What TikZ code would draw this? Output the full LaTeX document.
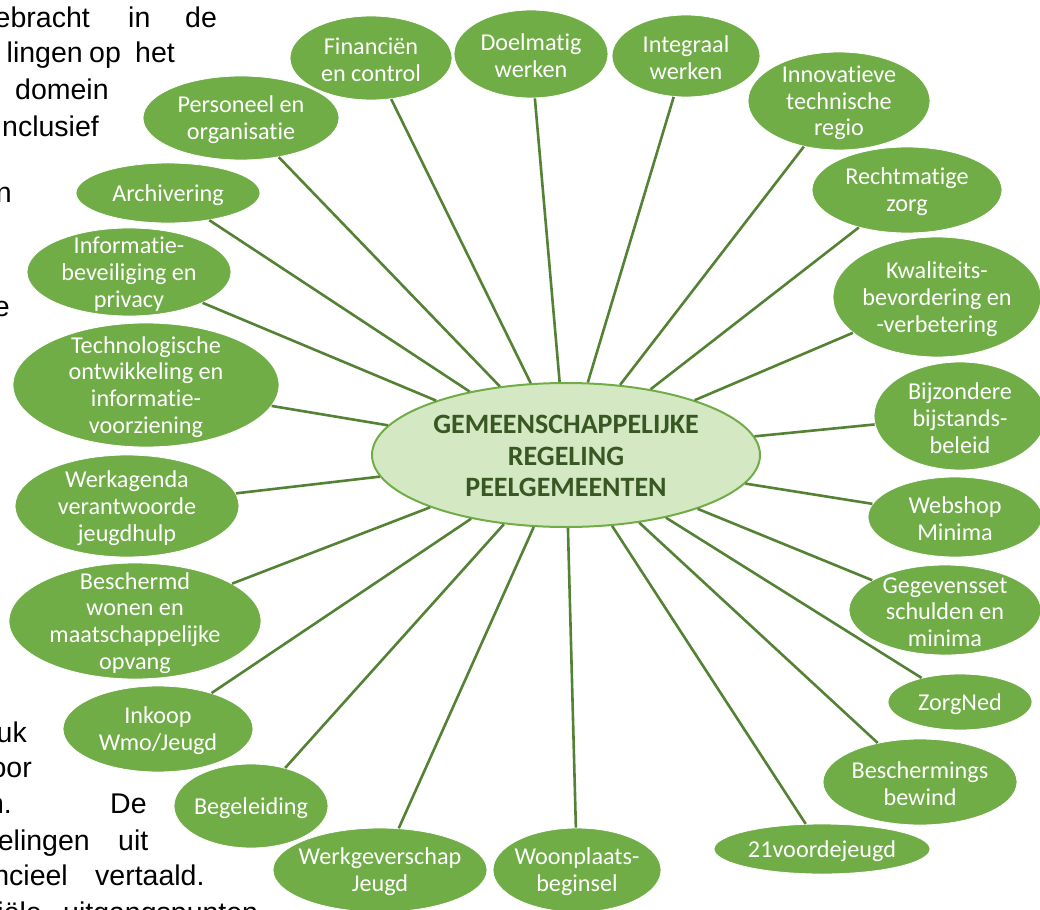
\documentclass[tikz,border=0pt]{standalone}
\usepackage{fontspec}
\setmainfont{Carlito}[Ligatures=NoCommon]
\newfontfamily\bodyfont{Liberation Sans}
\usetikzlibrary{shapes.geometric}
\definecolor{leaf}{HTML}{70AD47}
\definecolor{stem}{HTML}{548235}
\definecolor{hubfill}{HTML}{D5E8C4}
\definecolor{hubtext}{HTML}{385723}
\tikzset{
  topic/.style={ellipse, fill=leaf, draw=white, line width=0.8pt, inner sep=0pt},
  topictext/.style={text=white, inner sep=0pt, align=center, yshift=-2pt, font=\fontsize{24.2}{26.7}\selectfont},
  hubnode/.style={ellipse, fill=hubfill, draw=leaf, line width=2pt, inner sep=0pt},
  hubtextstyle/.style={text=hubtext, inner sep=0pt, align=center, yshift=-1pt, font=\bfseries\fontsize{28}{31.7}\selectfont},
  link/.style={stem, line width=2.6pt},
  prose/.style={font=\bodyfont\fontsize{28.5}{34}\selectfont, inner sep=0pt, text=black},
}
\newcommand\bubble[6]{\node[topic, minimum width=#4, minimum height=#5, label={[topictext]center:{#6}}] (#1) at (#2,#3) {};}
\begin{document}
\begin{tikzpicture}[x=1pt,y=-1pt]
\useasboundingbox (0,0) rectangle (1040,909);
\begin{scope}
\clip (0,0) rectangle (1040,909);
% background document text fragments
\node[prose, anchor=base east] (t1a) at (90,28) {ebracht};
\node[prose, anchor=base west] (t1b) at (128,28) {in};
\node[prose, anchor=base west] (t1c) at (185,28) {de};
\node[prose, anchor=base east] (t2a) at (83,63) {lingen};
\node[prose, anchor=base west] (t2b) at (89,63) {op};
\node[prose, anchor=base west] (t2c) at (135,63) {het};
\node[prose, anchor=base west] (t3a) at (15,100) {domein};
\node[prose, anchor=base east] (t4a) at (99,137) {nclusief};
\node[prose, anchor=base east] (t5a) at (12,203) {n};
\node[prose, anchor=base east] (t6a) at (10,316) {e};
\node[prose, anchor=base east] (b1a) at (27,742) {uk};
\node[prose, anchor=base east] (b2a) at (32,777) {oor};
\node[prose, anchor=base east] (b3a) at (12,813) {n.};
\node[prose, anchor=base west] (b3b) at (110,813) {De};
\node[prose, anchor=base east] (b4a) at (90,850) {elingen};
\node[prose, anchor=base west] (b4b) at (118,850) {uit};
\node[prose, anchor=base east] (b5a) at (68,885) {ncieel};
\node[prose, anchor=base west] (b5b) at (95,885) {vertaald.};
\node[prose, anchor=base east] (b6a) at (42,922) {iële};
\node[prose, anchor=base west] (b6b) at (63,922) {uitgangspunten};
% hub
\node[hubnode, minimum width=388, minimum height=144, label={[hubtextstyle]center:{GEMEENSCHAPPELIJKE\\REGELING\\PEELGEMEENTEN}}] (hub) at (566,455) {};
% topics
\bubble{fin}{371}{58}{162}{84}{Financiën\\en control}
\bubble{pers}{241}{118}{196}{84}{Personeel en\\organisatie}
\bubble{doel}{531}{54}{154}{88}{Doelmatig\\werken}
\bubble{integ}{686}{56}{148}{82}{Integraal\\werken}
\bubble{innov}{839}{101}{182}{98}{Innovatieve\\technische\\regio}
\bubble{recht}{907}{190}{190}{86}{Rechtmatige\\zorg}
\bubble{kwal}{937}{297}{208}{120}{Kwaliteits-\\bevordering en\\-verbetering}
\bubble{bijz}{960}{416}{172}{108}{Bijzondere\\bijstands-\\beleid}
\bubble{web}{955}{517}{174}{80}{Webshop\\Minima}
\bubble{gegev}{945}{610}{192}{90}{Gegevensset\\schulden en\\minima}
\bubble{zorg}{960}{702}{144}{56}{ZorgNed}
\bubble{besch}{920}{782}{194}{86}{Beschermings\\bewind}
\bubble{eenentw}{822}{849}{216}{50}{21voordejeugd}
\bubble{woon}{577}{870}{168}{84}{Woonplaats-\\beginsel}
\bubble{werkg}{380}{870}{214}{84}{Werkgeverschap\\Jeugd}
\bubble{begel}{251}{806}{154}{84}{Begeleiding}
\bubble{inkoop}{158}{729}{190}{86}{Inkoop\\Wmo/Jeugd}
\bubble{bwonen}{135}{621}{252}{116}{Beschermd\\wonen en\\maatschappelijke\\opvang}
\bubble{agenda}{127}{506}{224}{102}{Werkagenda\\verantwoorde\\jeugdhulp}
\bubble{techn}{146}{385}{266}{124}{Technologische\\ontwikkeling en\\informatie-\\voorziening}
\bubble{infobev}{129}{272}{204}{88}{Informatie-\\beveiliging en\\privacy}
\bubble{arch}{168}{193}{184}{60}{Archivering}
% connectors
\foreach \n in {fin,pers,doel,integ,innov,recht,kwal,bijz,web,gegev,zorg,besch,eenentw,woon,werkg,begel,inkoop,bwonen,agenda,techn,infobev,arch}
  \draw[link] (hub) -- (\n);
\end{scope}
\end{tikzpicture}
\end{document}
